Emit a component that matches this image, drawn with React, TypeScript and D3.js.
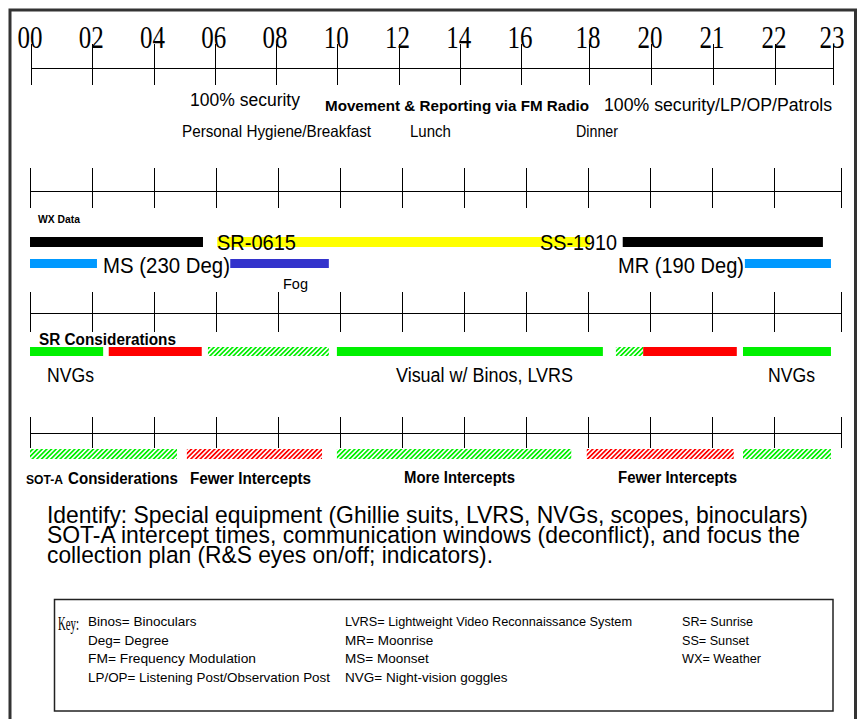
import React from 'react';
import * as d3 from 'd3';

// ---------- DATA ----------
const TIME_LABELS = ['00', '02', '04', '06', '08', '10', '12', '14', '16', '18', '20', '21', '22', '23'];

// Bar extents in time-slot units (slot 0 = "00" ... slot 13 = "23")
const WX_BARS = [
  { start: 0, end: 2.79, kind: 'dark' },
  { start: 3.02, end: 9.03, kind: 'daylight' },
  { start: 9.56, end: 12.73, kind: 'dark' },
];
const MOON_FOG_BARS = [
  { start: 0, end: 1.08, kind: 'moon' },
  { start: 3.23, end: 4.82, kind: 'fog' },
  { start: 11.53, end: 12.85, kind: 'moon' },
];
const SR_BARS = [
  { start: 0, end: 1.18, status: 'good' },
  { start: 1.27, end: 2.77, status: 'poor' },
  { start: 2.87, end: 4.82, status: 'transition' },
  { start: 4.95, end: 9.24, status: 'good' },
  { start: 9.45, end: 9.89, status: 'transition' },
  { start: 9.89, end: 11.4, status: 'poor' },
  { start: 11.5, end: 12.85, status: 'good' },
];
const SOTA_BARS = [
  { start: 0, end: 2.37, status: 'more' },
  { start: 2.53, end: 4.71, status: 'fewer' },
  { start: 4.95, end: 8.73, status: 'more' },
  { start: 8.98, end: 11.35, status: 'fewer' },
  { start: 11.5, end: 12.85, status: 'more' },
];

const PARAGRAPH = [
  'Identify: Special equipment (Ghillie suits, LVRS, NVGs, scopes, binoculars)',
  'SOT-A intercept times, communication windows (deconflict), and focus the',
  'collection plan (R&S eyes on/off; indicators).',
];
const KEY_COL1 = ['Binos= Binoculars', 'Deg= Degree', 'FM= Frequency Modulation', 'LP/OP= Listening Post/Observation Post'];
const KEY_COL2 = ['LVRS= Lightweight Video Reconnaissance System', 'MR= Moonrise', 'MS= Moonset', 'NVG= Night-vision goggles'];
const KEY_COL3 = ['SR= Sunrise', 'SS= Sunset', 'WX= Weather'];

// ---------- LAYOUT ----------
const W = 859;
const H = 719;
const SANS = '"Liberation Sans", Arial, sans-serif';
const SERIF = '"Liberation Serif", "Times New Roman", serif';
const PARA_W = [761, 753, 446];
const KEY1_W: (number | undefined)[] = [undefined, undefined, 168, 242];
const KEY2_W: (number | undefined)[] = [287, undefined, undefined, undefined];
const KEY3_W: (number | undefined)[] = [71, 67, 79];

const topScale = d3.scaleLinear().domain([0, 8, 9, 12, 13]).range([31, 521, 589, 775, 833]);
const lowScale = d3.scaleLinear().domain([0, 12, 13]).range([30, 774, 841]);

const WX_COLORS: Record<string, string> = { dark: '#000000', daylight: '#ffff00' };
const MOON_COLORS: Record<string, string> = { moon: '#0099ff', fog: '#3333cc' };
const SR_FILLS: Record<string, string> = { good: '#00f000', poor: '#ff0000', transition: 'url(#hatchGreen)' };
const SOTA_FILLS: Record<string, string> = { more: 'url(#hatchGreen)', fewer: 'url(#hatchRed)' };

type AxisProps = { scale: d3.ScaleLinear<number, number>; y: number; top: number; bottom: number };
const Axis = ({ scale, y, top, bottom }: AxisProps) => (
  <g stroke="#000" strokeWidth={1}>
    <line x1={scale(0)} x2={scale(TIME_LABELS.length - 1)} y1={y + 0.5} y2={y + 0.5} />
    {TIME_LABELS.map((_, i) => (
      <line key={i} x1={Math.round(scale(i)) + 0.5} x2={Math.round(scale(i)) + 0.5} y1={top} y2={bottom} />
    ))}
  </g>
);

type T = { x: number; y: number; w?: number; size: number; children: string; bold?: boolean; anchor?: string; family?: string };
const Txt = ({ x, y, w, size, children, bold, anchor, family }: T) => (
  <text
    x={x}
    y={y}
    fontSize={size}
    fontFamily={family || SANS}
    fontWeight={bold ? 'bold' : 'normal'}
    textAnchor={anchor || 'start'}
    textLength={w}
    lengthAdjust={w ? 'spacingAndGlyphs' : undefined}
    fill="#000"
  >
    {children}
  </text>
);

export default function App() {
  const bar = (s: { start: number; end: number }, y: number, h: number, fill: string, key: number) => (
    <rect key={key} x={lowScale(s.start)} y={y} width={lowScale(s.end) - lowScale(s.start)} height={h} fill={fill} />
  );
  return (
    <svg width={W} height={H} style={{ position: 'absolute', left: 0, top: 0, background: '#fff' }}>
      <defs>
        <pattern id="hatchGreen" patternUnits="userSpaceOnUse" width={3.3} height={3.3} patternTransform="rotate(45)">
          <rect width={1.7} height={3.3} fill="#00ee00" />
        </pattern>
        <pattern id="hatchRed" patternUnits="userSpaceOnUse" width={3.3} height={3.3} patternTransform="rotate(45)">
          <rect width={1.7} height={3.3} fill="#ff0000" />
        </pattern>
      </defs>
      <rect x={0} y={0} width={W} height={H} fill="#fff" />
      {/* outer frame */}
      <rect x={10} y={10} width={845.5} height={H + 20} fill="none" stroke="#333" strokeWidth={3} />

      {/* top time axis */}
      <Axis scale={topScale} y={68} top={44} bottom={85} />
      {TIME_LABELS.map((l, i) => (
        <text
          key={l}
          x={topScale(i) - 1}
          y={48}
          fontSize={31}
          fontFamily={SERIF}
          textAnchor="middle"
          textLength={25}
          lengthAdjust="spacingAndGlyphs"
        >
          {l}
        </text>
      ))}

      <Txt x={190} y={106} w={110} size={17.5}>100% security</Txt>
      <Txt x={325} y={111} w={264} size={15} bold>Movement &amp; Reporting via FM Radio</Txt>
      <Txt x={604} y={111} w={228} size={17.5}>100% security/LP/OP/Patrols</Txt>
      <Txt x={182} y={137} w={189} size={16.5}>Personal Hygiene/Breakfast</Txt>
      <Txt x={410} y={137} w={41} size={16.5}>Lunch</Txt>
      <Txt x={576} y={137} w={42} size={16.5}>Dinner</Txt>

      {/* WX axis */}
      <Axis scale={lowScale} y={191} top={168} bottom={208} />
      <Txt x={38} y={223} w={42} size={10.5} bold>WX Data</Txt>
      {WX_BARS.map((b, i) => bar(b, 237, 10, WX_COLORS[b.kind], i))}
      <Txt x={217} y={250} w={79} size={21.5}>SR-0615</Txt>
      <Txt x={540} y={250} w={77} size={21.5}>SS-1910</Txt>
      {MOON_FOG_BARS.map((b, i) => bar(b, 259, 9, MOON_COLORS[b.kind], i))}
      <Txt x={103} y={273} w={127} size={22.5}>MS (230 Deg)</Txt>
      <Txt x={618} y={273} w={126} size={22.5}>MR (190 Deg)</Txt>
      <Txt x={283} y={289} w={25} size={15.5}>Fog</Txt>

      {/* SR axis */}
      <Axis scale={lowScale} y={313} top={292} bottom={332} />
      <Txt x={39} y={345} w={137} size={16} bold>SR Considerations</Txt>
      {SR_BARS.map((b, i) => bar(b, 347, 9, SR_FILLS[b.status], i))}
      <Txt x={47} y={382} w={47} size={20}>NVGs</Txt>
      <Txt x={396} y={382} w={177} size={20}>Visual w/ Binos, LVRS</Txt>
      <Txt x={768} y={382} w={47} size={20}>NVGs</Txt>

      {/* SOT-A axis */}
      <Axis scale={lowScale} y={433} top={417} bottom={448} />
      {SOTA_BARS.map((b, i) => bar(b, 449, 10, SOTA_FILLS[b.status], i))}
      <Txt x={26} y={484} w={37} size={13} bold>SOT-A</Txt>
      <Txt x={68} y={484} w={110} size={16} bold>Considerations</Txt>
      <Txt x={190} y={484} w={121} size={16} bold>Fewer Intercepts</Txt>
      <Txt x={404} y={483} w={111} size={16} bold>More Intercepts</Txt>
      <Txt x={618} y={483} w={119} size={16} bold>Fewer Intercepts</Txt>

      {/* paragraph */}
      {PARAGRAPH.map((line, i) => (
        <Txt key={i} x={47} y={523 + i * 20} w={PARA_W[i]} size={24.5}>
          {line}
        </Txt>
      ))}

      {/* key box */}
      <rect x={54.5} y={599.5} width={778.5} height={111.5} fill="none" stroke="#222" strokeWidth={1.5} />
      <Txt x={58} y={630} w={21} size={18} family={SERIF}>Key:</Txt>
      {KEY_COL1.map((s, i) => (
        <Txt key={s} x={88} y={626 + i * 18.5} w={KEY1_W[i]} size={13.5}>{s}</Txt>
      ))}
      {KEY_COL2.map((s, i) => (
        <Txt key={s} x={345} y={626 + i * 18.5} w={KEY2_W[i]} size={13.5}>{s}</Txt>
      ))}
      {KEY_COL3.map((s, i) => (
        <Txt key={s} x={682} y={626 + i * 18.5} w={KEY3_W[i]} size={13.5}>{s}</Txt>
      ))}
    </svg>
  );
}
